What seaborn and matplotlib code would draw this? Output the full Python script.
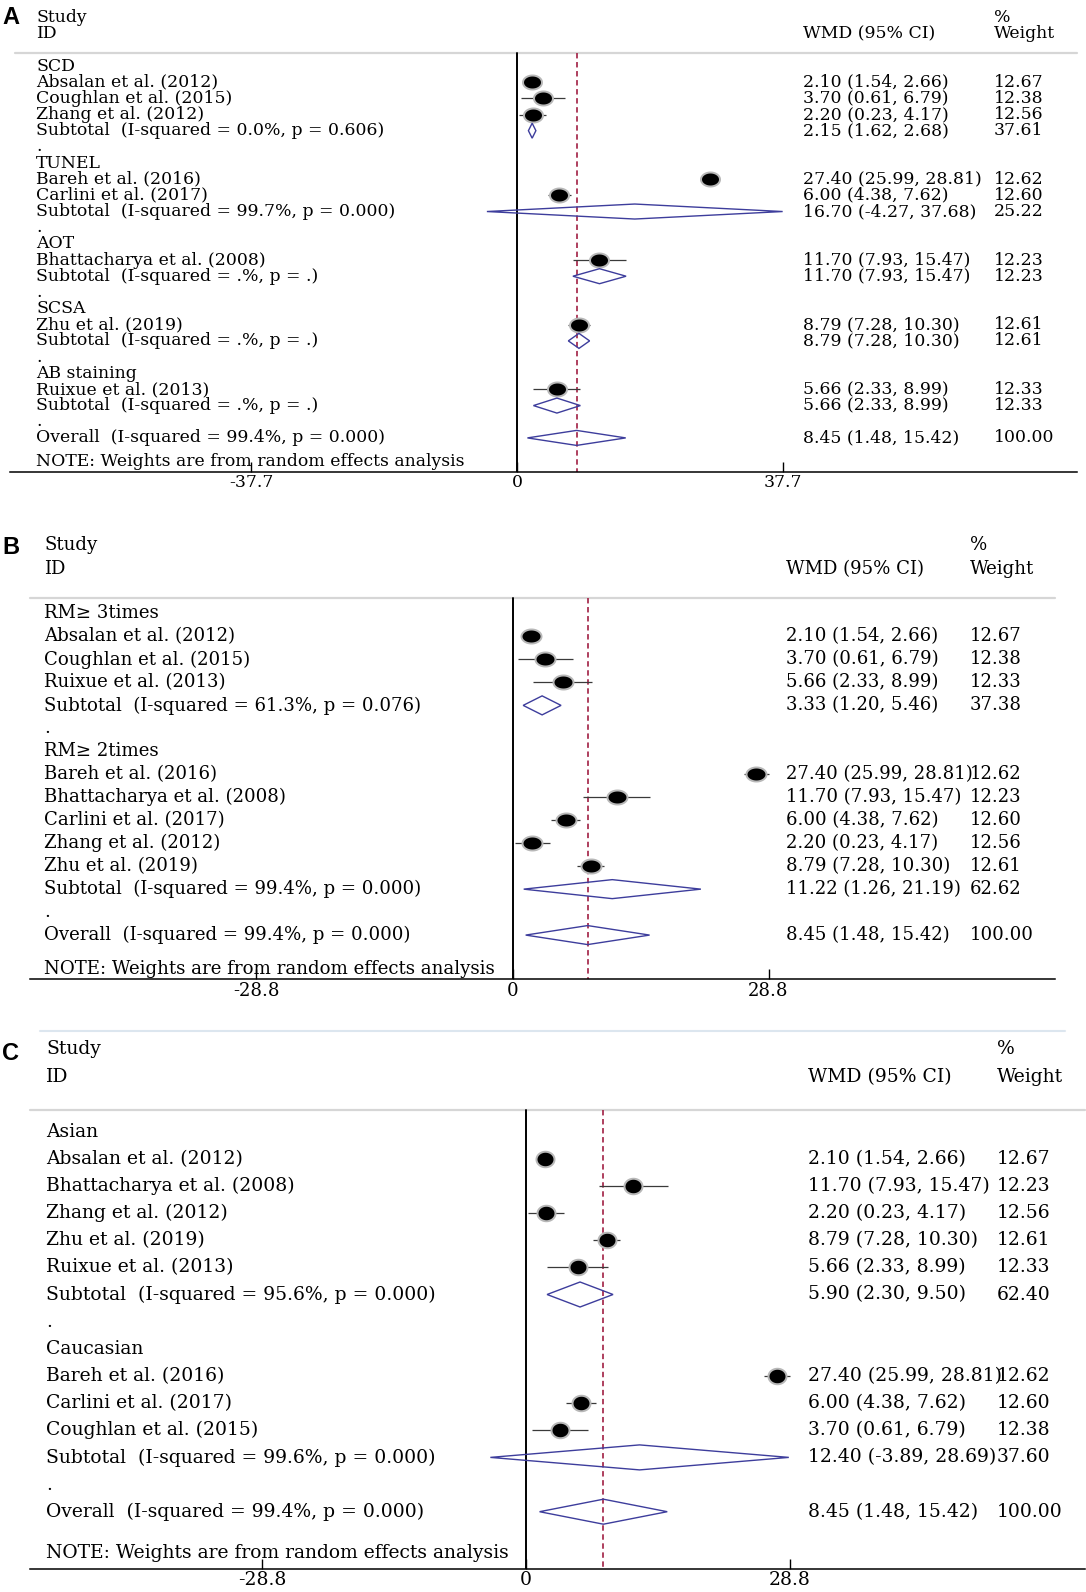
import numpy as np
import pandas as pd
import matplotlib.pyplot as plt
import seaborn as sns
from matplotlib.path import Path
from matplotlib.patches import Polygon
from matplotlib.lines import Line2D

# -----------------------------
# study level results (WMD, 95% CI, % weight)
# -----------------------------
study_names = ['Absalan et al. (2012)', 'Coughlan et al. (2015)', 'Zhang et al. (2012)',
               'Bareh et al. (2016)', 'Carlini et al. (2017)', 'Bhattacharya et al. (2008)',
               'Zhu et al. (2019)', 'Ruixue et al. (2013)']
study_wmd = [2.10, 3.70, 2.20, 27.40, 6.00, 11.70, 8.79, 5.66]
study_lo = [1.54, 0.61, 0.23, 25.99, 4.38, 7.93, 7.28, 2.33]
study_hi = [2.66, 6.79, 4.17, 28.81, 7.62, 15.47, 10.30, 8.99]
study_weight = [12.67, 12.38, 12.56, 12.62, 12.60, 12.23, 12.61, 12.33]

overall_wmd, overall_lo, overall_hi, overall_weight = 8.45, 1.48, 15.42, 100.00
overall_i2, overall_p = '99.4%', '0.000'

# panel A - detection method
a_groups = ['SCD', 'TUNEL', 'AOT', 'SCSA', 'AB staining']
a_members = [['Absalan et al. (2012)', 'Coughlan et al. (2015)', 'Zhang et al. (2012)'],
             ['Bareh et al. (2016)', 'Carlini et al. (2017)'],
             ['Bhattacharya et al. (2008)'],
             ['Zhu et al. (2019)'],
             ['Ruixue et al. (2013)']]
a_sub_wmd = [2.15, 16.70, 11.70, 8.79, 5.66]
a_sub_lo = [1.62, -4.27, 7.93, 7.28, 2.33]
a_sub_hi = [2.68, 37.68, 15.47, 10.30, 8.99]
a_sub_weight = [37.61, 25.22, 12.23, 12.61, 12.33]
a_sub_i2 = ['0.0%', '99.7%', '.%', '.%', '.%']
a_sub_p = ['0.606', '0.000', '.', '.', '.']
a_ticks = [-37.7, 0, 37.7]
a_ticklabels = ['-37.7', '0', '37.7']

# panel B - number of repeats
b_groups = ['RM\u2265 3times', 'RM\u2265 2times']
b_members = [['Absalan et al. (2012)', 'Coughlan et al. (2015)', 'Ruixue et al. (2013)'],
             ['Bareh et al. (2016)', 'Bhattacharya et al. (2008)', 'Carlini et al. (2017)',
              'Zhang et al. (2012)', 'Zhu et al. (2019)']]
b_sub_wmd = [3.33, 11.22]
b_sub_lo = [1.20, 1.26]
b_sub_hi = [5.46, 21.19]
b_sub_weight = [37.38, 62.62]
b_sub_i2 = ['61.3%', '99.4%']
b_sub_p = ['0.076', '0.000']
b_ticks = [-28.8, 0, 28.8]
b_ticklabels = ['-28.8', '0', '28.8']

# panel C - ethnicity
c_groups = ['Asian', 'Caucasian']
c_members = [['Absalan et al. (2012)', 'Bhattacharya et al. (2008)', 'Zhang et al. (2012)',
              'Zhu et al. (2019)', 'Ruixue et al. (2013)'],
             ['Bareh et al. (2016)', 'Carlini et al. (2017)', 'Coughlan et al. (2015)']]
c_sub_wmd = [5.90, 12.40]
c_sub_lo = [2.30, -3.89]
c_sub_hi = [9.50, 28.69]
c_sub_weight = [62.40, 37.60]
c_sub_i2 = ['95.6%', '99.6%']
c_sub_p = ['0.000', '0.000']
c_ticks = [-28.8, 0, 28.8]
c_ticklabels = ['-28.8', '0', '28.8']

# -----------------------------
# style
# -----------------------------
sns.set_theme(style='white')
plt.rcParams['font.family'] = ['DejaVu Serif']
plt.rcParams['axes.unicode_minus'] = False
plt.rcParams['text.color'] = 'black'
plt.rcParams['xtick.color'] = 'black'
plt.rcParams['xtick.labelcolor'] = 'black'

W, H = 1086, 1592
DIAMOND = '#3d3d9c'
REDLINE = '#a83052'


def build_rows(groups, members, s_wmd, s_lo, s_hi, s_w, s_i2, s_p):
    rows = []
    for g, mem, e, lo, hi, w, i2, p in zip(groups, members, s_wmd, s_lo, s_hi, s_w, s_i2, s_p):
        rows.append(dict(kind='group', label=g))
        for name in mem:
            i = study_names.index(name)
            rows.append(dict(kind='study', label=name, wmd=study_wmd[i], lo=study_lo[i],
                             hi=study_hi[i], weight=study_weight[i]))
        rows.append(dict(kind='sub', label=f'Subtotal  (I-squared = {i2}, p = {p})',
                         wmd=e, lo=lo, hi=hi, weight=w))
        rows.append(dict(kind='gap', label='.'))
    rows.append(dict(kind='sub', label=f'Overall  (I-squared = {overall_i2}, p = {overall_p})',
                     wmd=overall_wmd, lo=overall_lo, hi=overall_hi, weight=overall_weight))
    df = pd.DataFrame(rows)
    df['row'] = np.arange(len(df))
    return df


def ellipse_marker(ratio):
    t = np.linspace(0, 2 * np.pi, 60)
    verts = np.column_stack([np.cos(t), ratio * np.sin(t)])
    return Path(verts, closed=True)


def draw_panel(fig, df, ticks, ticklabels, L):
    px_y = lambda p: (p - L['y0']) / L['dy']
    px_x = lambda p: (p - L['zero_x']) / L['scale']

    top_px = L['study_y'] - 14
    ax = fig.add_axes([L['x_left'] / W, 1 - L['axis_y'] / H,
                       (L['x_right'] - L['x_left']) / W, (L['axis_y'] - top_px) / H])
    ax.set_xlim(px_x(L['x_left']), px_x(L['x_right']))
    ax.set_ylim(px_y(L['axis_y']), px_y(top_px))
    fs = L['font']

    # header
    tx = px_x(L['text_x'])
    ax.text(tx, px_y(L['study_y']), 'Study', ha='left', va='center', fontsize=fs)
    ax.text(tx, px_y(L['id_y']), 'ID', ha='left', va='center', fontsize=fs)
    ax.text(px_x(L['wmd_x']), px_y(L['id_y']), 'WMD (95% CI)', ha='left', va='center', fontsize=fs)
    ax.text(px_x(L['wt_x']), px_y(L['study_y']), '%', ha='left', va='center', fontsize=fs)
    ax.text(px_x(L['wt_x']), px_y(L['id_y']), 'Weight', ha='left', va='center', fontsize=fs)

    r_sep = px_y(L['sep_y'])
    r_axis = px_y(L['axis_y'])
    ax.plot([px_x(L['sep_x0']), px_x(L['x_right'])], [r_sep, r_sep], color='#d6d6d6',
            lw=1.6, clip_on=False, zorder=1)

    # reference lines
    ax.plot([0, 0], [r_sep, r_axis], color='black', lw=1.4, zorder=2)
    ax.plot([overall_wmd, overall_wmd], [r_sep, r_axis], color=REDLINE, lw=1.3,
            dashes=(3, 2), zorder=2)

    # labels and numbers
    for _, r in df.iterrows():
        ax.text(tx, r['row'], r['label'], ha='left', va='center', fontsize=fs)
        if r['kind'] in ('study', 'sub'):
            ax.text(px_x(L['wmd_x']), r['row'],
                    f"{r['wmd']:.2f} ({r['lo']:.2f}, {r['hi']:.2f})",
                    ha='left', va='center', fontsize=fs)
            ax.text(px_x(L['wt_x']), r['row'], f"{r['weight']:.2f}",
                    ha='left', va='center', fontsize=fs)
    ax.text(tx, px_y(L['note_y']), 'NOTE: Weights are from random effects analysis',
            ha='left', va='center', fontsize=fs)

    # individual studies
    st = df[df['kind'] == 'study']
    ax.hlines(st['row'], st['lo'], st['hi'], color='#3a3a3a', lw=0.9, zorder=3)
    mw, mh = L['marker']
    halo = ellipse_marker((mh + 4) / (mw + 4))
    dot = ellipse_marker(mh / mw)
    sns.scatterplot(data=st, x='wmd', y='row', marker=halo, s=((mw + 4) / 1.389) ** 2,
                    color='#b8b8b8', linewidth=0, legend=False, ax=ax, zorder=4)
    sns.scatterplot(data=st, x='wmd', y='row', marker=dot, s=(mw / 1.389) ** 2,
                    color='black', linewidth=0, legend=False, ax=ax, zorder=5)

    # pooled diamonds
    hh = L['diamond'] / L['dy']
    for _, r in df[df['kind'] == 'sub'].iterrows():
        ax.add_patch(Polygon([[r['lo'], r['row']], [r['wmd'], r['row'] - hh],
                              [r['hi'], r['row']], [r['wmd'], r['row'] + hh]],
                             closed=True, fill=False, edgecolor=DIAMOND, lw=1.0, zorder=4))

    # axis
    for s in ['top', 'right', 'left']:
        ax.spines[s].set_visible(False)
    ax.spines['bottom'].set_color('black')
    ax.spines['bottom'].set_linewidth(1.1)
    ax.set_yticks([])
    ax.set_xticks(ticks)
    ax.set_xticklabels(ticklabels)
    ax.tick_params(axis='x', direction='in', length=7, width=1.0, pad=2,
                   labelsize=fs, color='black', labelcolor='black', bottom=True)
    ax.set_xlabel('')
    ax.set_ylabel('')
    ax.patch.set_alpha(0)

    fig.text(2 / W, 1 - L['letter_y'] / H, L['letter'], fontsize=17, fontweight='bold',
             family='Liberation Sans', color='black', ha='left', va='center')
    return ax


layout_a = dict(letter='A', letter_y=17, y0=66, dy=16.17, axis_y=471.5, zero_x=517, scale=7.05,
                x_left=10, x_right=1077, sep_x0=15, sep_y=53, text_x=36, wmd_x=803, wt_x=994,
                study_y=17, id_y=33.5, note_y=462, font=12.4, marker=(17, 12), diamond=7.5)
layout_b = dict(letter='B', letter_y=548, y0=613.5, dy=22.97, axis_y=979.5, zero_x=512.5,
                scale=8.89, x_left=30, x_right=1054.5, sep_x0=30, sep_y=598, text_x=44,
                wmd_x=786, wt_x=970, study_y=545.5, id_y=569, note_y=968.5, font=13.1,
                marker=(18, 12), diamond=9.5)
layout_c = dict(letter='C', letter_y=1054, y0=1131.6, dy=27.15, axis_y=1568.6, zero_x=526,
                scale=9.16, x_left=30, x_right=1085, sep_x0=30, sep_y=1110, text_x=46,
                wmd_x=808, wt_x=997, study_y=1048.5, id_y=1077, note_y=1553.5, font=13.5,
                marker=(16, 13.5), diamond=12.5)

df_a = build_rows(a_groups, a_members, a_sub_wmd, a_sub_lo, a_sub_hi, a_sub_weight, a_sub_i2, a_sub_p)
df_b = build_rows(b_groups, b_members, b_sub_wmd, b_sub_lo, b_sub_hi, b_sub_weight, b_sub_i2, b_sub_p)
df_c = build_rows(c_groups, c_members, c_sub_wmd, c_sub_lo, c_sub_hi, c_sub_weight, c_sub_i2, c_sub_p)

fig = plt.figure(figsize=(W / 100, H / 100), dpi=100)
fig.patch.set_facecolor('white')

draw_panel(fig, df_a, a_ticks, a_ticklabels, layout_a)
draw_panel(fig, df_b, b_ticks, b_ticklabels, layout_b)
draw_panel(fig, df_c, c_ticks, c_ticklabels, layout_c)

# thin light line between panels B and C
fig.add_artist(Line2D([40 / W, 1065 / W], [1 - 1031 / H, 1 - 1031 / H],
                      color='#dce6ef', lw=1.5))

fig.savefig('out.png', dpi=100)
